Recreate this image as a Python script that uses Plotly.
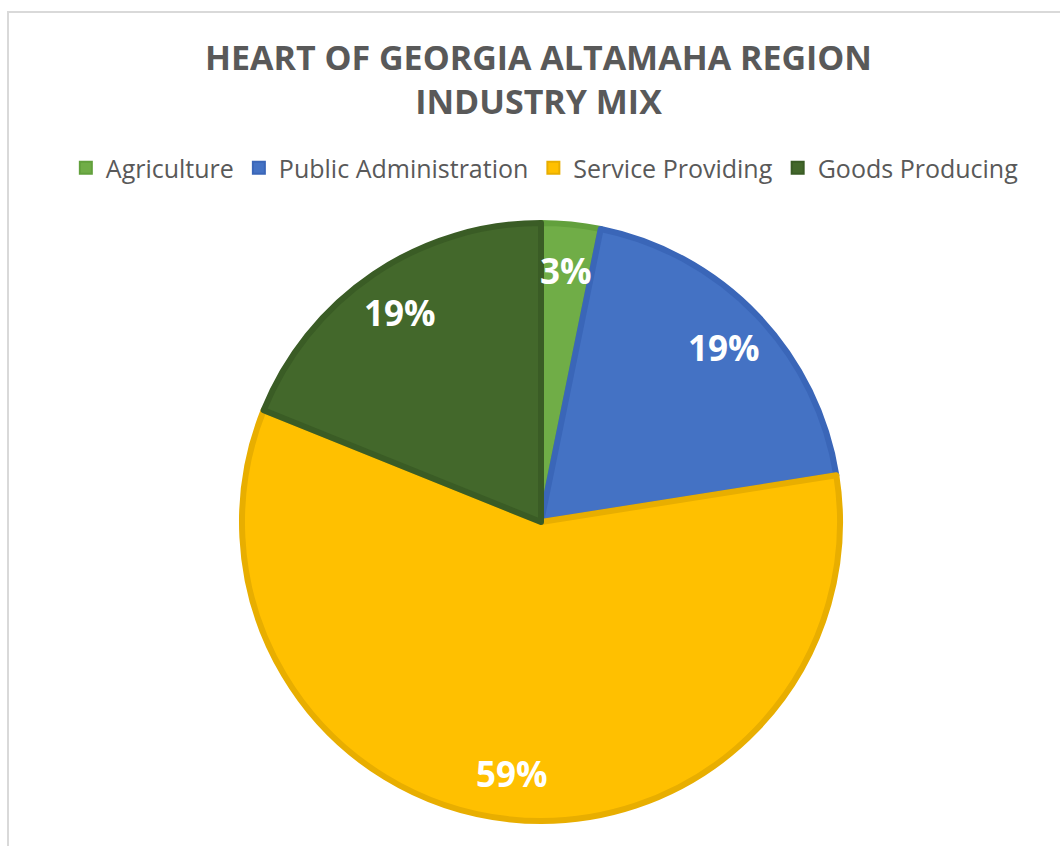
import math
import plotly.graph_objects as go

categories = ["Agriculture", "Public Administration", "Service Providing", "Goods Producing"]
shares = [3.2, 19.3, 58.6, 18.9]
fill_colors = ["#70AD47", "#4472C4", "#FFC000", "#43682B"]
edge_colors = ["#62A03C", "#3A66B8", "#E8AE00", "#3A5C25"]

W, H = 1060, 846
cx, cy, R = 541, 522, 299  # pixel layout of pie

dom_x = [(cx - R) / W, (cx + R) / W]
dom_y = [(H - cy - R) / H, (H - cy + R) / H]

fig = go.Figure()
fig.add_trace(go.Pie(
    labels=categories,
    values=shares,
    sort=False,
    direction="clockwise",
    rotation=0,
    marker=dict(colors=fill_colors, line=dict(color=edge_colors, width=6)),
    textinfo="none",
    hoverinfo="label+percent",
    domain=dict(x=dom_x, y=dom_y),
))

# percentage labels placed along each slice's mid-angle
total = sum(shares)
cum = 0.0
annotations = []
for v in shares:
    mid = (cum + v / 2) / total * 2 * math.pi
    cum += v
    r = 0.845 * R
    px = cx + r * math.sin(mid)
    py = cy - r * math.cos(mid)
    annotations.append(dict(
        x=px / W, y=1 - py / H, xref="paper", yref="paper",
        text=f"<b>{round(v / total * 100)}%</b>", showarrow=False,
        font=dict(family="Open Sans", size=35, color="white"),
        xanchor="center", yanchor="middle",
    ))

fig.update_layout(
    width=W, height=H,
    margin=dict(l=0, r=0, t=0, b=0),
    paper_bgcolor="white",
    plot_bgcolor="white",
    title=dict(
        text="<b>HEART OF GEORGIA ALTAMAHA REGION<br>INDUSTRY MIX</b>",
        x=0.508, xanchor="center", y=1 - 70 / H, yanchor="middle",
        font=dict(family="Open Sans", size=34, color="#595959"),
    ),
    legend=dict(
        orientation="h", x=0.514, xanchor="center", y=1 - 168 / H, yanchor="middle",
        font=dict(family="Open Sans", size=25, color="#595959"),
        itemsizing="constant", traceorder="normal",
    ),
    annotations=annotations,
    shapes=[dict(type="rect", xref="paper", yref="paper",
                 x0=8 / W, x1=1.2, y0=-0.2, y1=1 - 12 / H,
                 line=dict(color="#D9D9D9", width=2), fillcolor="rgba(0,0,0,0)", layer="below")],
)

fig.write_html("out.html")
